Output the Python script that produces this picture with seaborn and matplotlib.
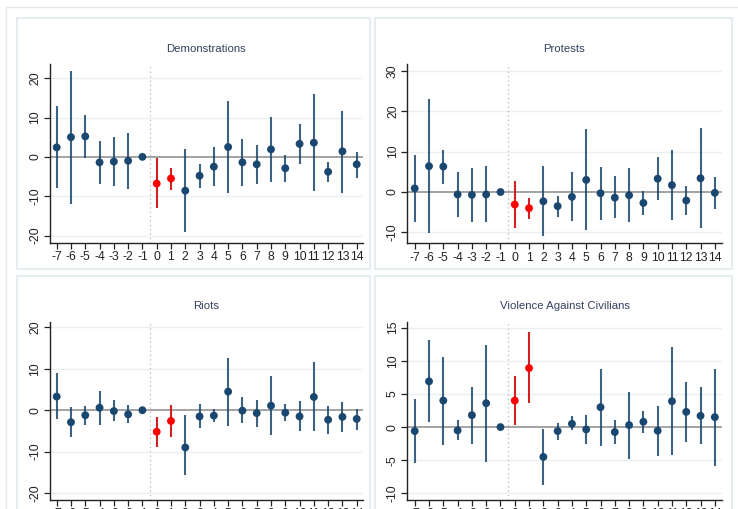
import numpy as np
import pandas as pd
import matplotlib
matplotlib.use("Agg")
import matplotlib.pyplot as plt
from matplotlib.patches import Rectangle
import seaborn as sns

periods = list(range(-7, 15))

demo_coef = [2.4, 5.0, 5.2, -1.4, -1.2, -1.0, 0.0, -6.8, -5.5, -8.6, -4.8, -2.5, 2.5, -1.4, -1.9, 1.9, -2.9, 3.3, 3.6, -3.8, 1.4, -1.9]
demo_hi = [12.8, 21.9, 10.7, 4.1, 5.1, 6.1, 0.0, -0.3, -2.8, 1.9, -1.9, 2.5, 14.2, 4.6, 3.0, 10.2, 0.5, 8.4, 15.9, -1.3, 11.7, 1.3]
demo_lo = [-8.0, -12.0, -0.3, -6.8, -7.3, -8.1, 0.0, -13.1, -8.4, -19.0, -7.8, -7.5, -9.2, -7.5, -6.9, -6.4, -6.3, -1.9, -8.8, -6.5, -9.1, -5.3]

prot_coef = [0.9, 6.4, 6.3, -0.6, -0.7, -0.6, 0.0, -3.1, -4.0, -2.3, -3.5, -1.2, 3.0, -0.3, -1.4, -0.8, -2.7, 3.3, 1.7, -2.1, 3.4, -0.2]
prot_hi = [9.2, 23.1, 10.4, 5.0, 6.0, 6.4, 0.0, 2.7, -1.4, 6.4, -0.9, 4.9, 15.5, 6.3, 3.9, 6.0, 0.2, 8.7, 10.4, 1.5, 15.8, 3.7]
prot_lo = [-7.4, -10.2, 2.1, -6.2, -7.5, -7.4, 0.0, -8.8, -6.7, -10.9, -6.1, -7.1, -9.4, -6.9, -6.5, -7.5, -5.7, -1.9, -6.9, -5.8, -8.8, -4.1]

riot_coef = [3.3, -2.9, -1.2, 0.6, -0.2, -1.0, 0.0, -5.2, -2.6, -9.0, -1.5, -1.3, 4.5, -0.1, -0.7, 1.1, -0.6, -1.5, 3.2, -2.3, -1.6, -2.1]
riot_hi = [9.0, 0.7, 1.0, 4.7, 2.4, 1.2, 0.0, -1.7, 1.2, -1.2, 1.4, 0.3, 12.7, 3.1, 2.5, 8.3, 1.6, 2.3, 11.6, 1.1, 2.1, 0.4]
riot_lo = [-2.2, -6.5, -3.6, -3.5, -2.7, -3.1, 0.0, -8.8, -6.5, -15.6, -4.4, -2.9, -3.8, -3.1, -4.0, -6.0, -2.7, -4.9, -5.0, -5.8, -5.2, -4.7]

vac_coef = [-0.6, 6.9, 4.0, -0.5, 1.8, 3.6, 0.0, 4.0, 8.9, -4.5, -0.6, 0.5, -0.35, 3.0, -0.75, 0.3, 0.8, -0.55, 3.9, 2.3, 1.7, 1.5]
vac_hi = [4.2, 13.2, 10.6, 1.0, 6.1, 12.4, 0.0, 7.7, 14.3, -0.3, 0.6, 1.6, 1.8, 8.8, 1.0, 5.3, 2.4, 3.2, 12.1, 6.8, 6.0, 8.8]
vac_lo = [-5.4, 0.7, -2.7, -1.9, -2.6, -5.2, 0.0, 0.35, 3.6, -8.7, -1.9, -0.5, -2.6, -2.8, -2.5, -4.8, -0.85, -4.4, -4.2, -2.2, -2.6, -5.8]

titles = ["Demonstrations", "Protests", "Riots", "Violence Against Civilians"]
highlight_periods = [0, 1]

sns.set_theme(style="white")
plt.rcParams['font.family'] = ['Liberation Sans', 'DejaVu Sans']

W, H = 738, 509
fig = plt.figure(figsize=(W / 100, H / 100), dpi=100)
fig.patch.set_facecolor("white")

NAVY = "#1a476f"
RED = "#ff0000"
RED_BAR = "#d42020"
FRAME = "#e2eaee"
GRID = "#e9f0f2"

def px_rect(x0, y0, x1, y1):
    return [x0 / W, 1 - y1 / H, (x1 - x0) / W, (y1 - y0) / H]

# frames
outer = Rectangle((6 / W, -0.1), 1.2, 1 - 7 / H + 0.1, transform=fig.transFigure,
                  fill=False, edgecolor=FRAME, lw=1.0)
fig.patches.append(outer)
for (x0, y0, x1, y1) in [(17, 18, 370, 269), (375, 18, 732, 269), (17, 276, 370, 540), (375, 276, 732, 540)]:
    r = Rectangle((x0 / W, 1 - y1 / H), (x1 - x0) / W, (y1 - y0) / H, transform=fig.transFigure,
                  fill=False, edgecolor=FRAME, lw=1.2)
    fig.patches.append(r)

panels = [
    (demo_coef, demo_lo, demo_hi, (49.7, 64, 363, 243), (-21.9, 23.6), [-20, -10, 0, 10, 20], (-7.49, 14.44)),
    (prot_coef, prot_lo, prot_hi, (407.3, 64, 721.7, 243.3), (-12.7, 31.7), [-10, 0, 10, 20, 30], (-7.52, 14.48)),
    (riot_coef, riot_lo, riot_hi, (49.7, 321.7, 363, 500), (-21.7, 21.4), [-20, -10, 0, 10, 20], (-7.49, 14.44)),
    (vac_coef, vac_lo, vac_hi, (407.3, 321.7, 721.7, 500), (-11.0, 15.9), [-10, -5, 0, 5, 10, 15], (-7.52, 14.48)),
]

for (coef, lo, hi, box, ylim, yticks, xlim), title in zip(panels, titles):
    ax = fig.add_axes(px_rect(*box))
    df = pd.DataFrame({"period": periods, "coef": coef, "lo": lo, "hi": hi})
    df["group"] = np.where(df["period"].isin(highlight_periods), "hl", "base")
    ax.set_xlim(*xlim)
    ax.set_ylim(*ylim)
    for t in yticks:
        if t != 0:
            ax.axhline(t, color=GRID, lw=1.0, zorder=0)
    ax.axhline(0, color="#8a8a8a", lw=1.1, zorder=1)
    ax.axvline(-0.5, color="#b5b5b5", lw=0.9, ls=(0, (1, 2.5)), zorder=1)
    base = df[df["group"] == "base"]
    hl = df[df["group"] == "hl"]
    ax.vlines(base["period"], base["lo"], base["hi"], color=NAVY, lw=1.5, zorder=2, alpha=0.85)
    ax.vlines(hl["period"], hl["lo"], hl["hi"], color=RED_BAR, lw=1.5, zorder=2)
    sns.scatterplot(data=df, x="period", y="coef", hue="group",
                    palette={"base": NAVY, "hl": RED}, s=32, edgecolor="none",
                    legend=False, ax=ax, zorder=3)
    ax.set_xticks(periods)
    ax.set_xticklabels([str(p) for p in periods])
    ax.set_yticks(yticks)
    ax.set_yticklabels([str(t) for t in yticks], rotation=90, va="center")
    ax.tick_params(axis="both", which="major", length=4, width=0.9, color="#222222",
                   labelsize=8.8, labelcolor="#222222", pad=2, direction="out",
                   bottom=True, left=True)
    ax.set_xlabel("")
    ax.set_ylabel("")
    for s in ["top", "right"]:
        ax.spines[s].set_visible(False)
    for s in ["left", "bottom"]:
        ax.spines[s].set_color("#222222")
        ax.spines[s].set_linewidth(1.0)
    ax.set_facecolor("none")
    ax.set_title(title, fontsize=8.2, color="#34405e", pad=9)

fig.savefig("out.png", dpi=100, facecolor="white")
